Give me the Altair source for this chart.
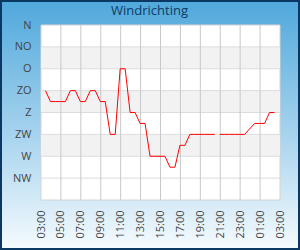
import json
import altair as alt
import pandas as pd

# ---- data ----
times = [
    "2024-01-01T03:27", "2024-01-01T03:57", "2024-01-01T04:27", "2024-01-01T04:57",
    "2024-01-01T05:27", "2024-01-01T05:57", "2024-01-01T06:27", "2024-01-01T06:57",
    "2024-01-01T07:27", "2024-01-01T07:57", "2024-01-01T08:27", "2024-01-01T08:57",
    "2024-01-01T09:27", "2024-01-01T09:57", "2024-01-01T10:27", "2024-01-01T10:57",
    "2024-01-01T11:27", "2024-01-01T11:57", "2024-01-01T12:27", "2024-01-01T12:57",
    "2024-01-01T13:27", "2024-01-01T13:57", "2024-01-01T14:27", "2024-01-01T14:57",
    "2024-01-01T15:27", "2024-01-01T15:57", "2024-01-01T16:27", "2024-01-01T16:57",
    "2024-01-01T17:27", "2024-01-01T17:57", "2024-01-01T18:27", "2024-01-01T18:57",
    "2024-01-01T19:27", "2024-01-01T19:57", "2024-01-01T20:27",
    "2024-01-01T20:57", "2024-01-01T21:27", "2024-01-01T21:57", "2024-01-01T22:27",
    "2024-01-01T22:57", "2024-01-01T23:27",
    "2024-01-02T00:27", "2024-01-02T00:57", "2024-01-02T01:27", "2024-01-02T01:57",
    "2024-01-02T02:27",
]
directions = [
    135, 157.5, 157.5, 157.5, 157.5, 135, 135, 157.5,
    157.5, 135, 135, 157.5, 157.5, 225, 225, 90,
    90, 180, 180, 202.5, 202.5, 270, 270, 270,
    270, 292.5, 292.5, 247.5, 247.5, 225, 225, 225,
    225, 225, 225,
    225, 225, 225, 225, 225, 225,
    202.5, 202.5, 202.5, 180, 180,
]
segments = [1] * 35 + [2] * 11

title_text = ["Windrichting"]
compass_labels = ["N", "NO", "O", "ZO", "Z", "ZW", "W", "NW"]
compass_degrees = [0, 45, 90, 135, 180, 225, 270, 315]
band_from = [45, 135, 225]
band_to = [90, 180, 270]
grid_degrees = [45, 90, 135, 180, 225, 270, 315]
x_ticks = [
    "2024-01-01T03:00", "2024-01-01T05:00", "2024-01-01T07:00", "2024-01-01T09:00",
    "2024-01-01T11:00", "2024-01-01T13:00", "2024-01-01T15:00", "2024-01-01T17:00",
    "2024-01-01T19:00", "2024-01-01T21:00", "2024-01-01T23:00", "2024-01-02T01:00",
    "2024-01-02T03:00",
]
grid_hours = x_ticks[1:-1]

FONT = "Open Sans"
W, H = 239, 175
PAD_L, PAD_T, PAD_R, PAD_B = 41, 25, 20, 50

line_df = pd.DataFrame({"time": pd.to_datetime(times), "dir": directions, "seg": segments})
band_df = pd.DataFrame({"y0": band_from, "y1": band_to})
hgrid_df = pd.DataFrame({"deg": grid_degrees})
vgrid_df = pd.DataFrame({"t": pd.to_datetime(grid_hours)})
title_df = pd.DataFrame({"label": title_text})
one = pd.DataFrame({"k": [0]})


def dt(s):
    d = pd.Timestamp(s)
    return alt.DateTime(year=d.year, month=d.month, date=d.day, hours=d.hour, minutes=d.minute)


x_domain = [dt(x_ticks[0]), dt(x_ticks[-1])]
x_scale = alt.Scale(domain=x_domain)
y_scale = alt.Scale(domain=[0, 360], reverse=True)

label_expr = "%s[round(datum.value / 45)]" % json.dumps(compass_labels)

y_axis = alt.Axis(
    values=compass_degrees, labelExpr=label_expr, grid=False, domain=False, ticks=False,
    labelPadding=10, labelFontSize=11, labelColor="#444444", labelFont=FONT,
    title=None, zindex=1, labelOverlap=False,
)
x_axis = alt.Axis(
    values=[dt(v) for v in x_ticks], format="%H:%M", labelAngle=270, grid=False,
    domain=False, ticks=False, labelPadding=10, labelFontSize=11, labelColor="#444444",
    labelFont=FONT, title=None, zindex=1, labelFlush=False, labelOverlap=False,
)

background = alt.Chart(one).mark_rect(
    fill=alt.LinearGradient(
        gradient="linear", x1=0, y1=0, x2=0, y2=1,
        stops=[alt.GradientStop(color="#4fa8dc", offset=0),
               alt.GradientStop(color="#a9d4ee", offset=0.55),
               alt.GradientStop(color="#f6fbfe", offset=1)],
    ),
    stroke="#0b3862", strokeWidth=4,
).encode(
    x=alt.value(-PAD_L), x2=alt.value(W + PAD_R),
    y=alt.value(-PAD_T), y2=alt.value(H + PAD_B),
)

title = alt.Chart(title_df).mark_text(
    font=FONT, fontSize=13, color="#0e3a66", align="center", baseline="alphabetic",
).encode(
    text="label:N", x=alt.value(W / 2 - 11), y=alt.value(-10),
)

plot_bg = alt.Chart(one).mark_rect(fill="white", stroke="#d4d4d4", strokeWidth=1).encode(
    x=alt.value(0), x2=alt.value(W), y=alt.value(0), y2=alt.value(H),
)

bands = alt.Chart(band_df).mark_rect(fill="#f2f2f2").encode(
    y=alt.Y("y0:Q", scale=y_scale, axis=y_axis),
    y2="y1:Q",
    x=alt.value(0), x2=alt.value(W),
)

hgrid = alt.Chart(hgrid_df).mark_rule(color="#dcdcdc", strokeWidth=1).encode(
    y=alt.Y("deg:Q", scale=y_scale, axis=y_axis),
    x=alt.value(0), x2=alt.value(W),
)

vgrid = alt.Chart(vgrid_df).mark_rule(color="#c8c8c8", strokeWidth=1).encode(
    x=alt.X("t:T", scale=x_scale, axis=x_axis),
    y=alt.value(0), y2=alt.value(H),
)

line = alt.Chart(line_df).mark_line(color="#ff0000", strokeWidth=1).encode(
    x=alt.X("time:T", scale=x_scale, axis=x_axis),
    y=alt.Y("dir:Q", scale=y_scale, axis=y_axis),
    detail="seg:N",
)

chart = alt.layer(background, title, plot_bg, bands, hgrid, vgrid, line).properties(
    width=W, height=H,
    autosize=alt.AutoSizeParams(type="none"),
    padding={"left": PAD_L, "top": PAD_T, "right": PAD_R, "bottom": PAD_B},
).configure_view(stroke=None)

chart.save("out.html", embed_options={"renderer": "svg", "actions": False})
